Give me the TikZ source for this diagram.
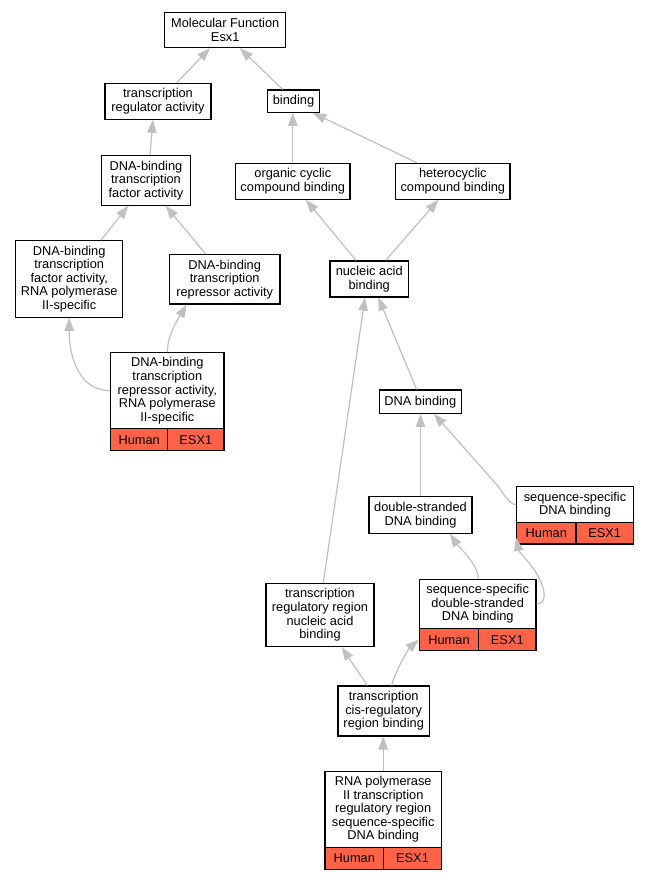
\documentclass[tikz,border=0pt]{standalone}
\usepackage{fontspec}
\setmainfont{Liberation Sans}
\usetikzlibrary{arrows.meta}
\definecolor{edgegray}{HTML}{C0C0C0}
\definecolor{tomato}{HTML}{FF6347}
\begin{document}
\begin{tikzpicture}[x=1pt,y=-1pt,
  box/.style={draw=black, line width=1.15pt, fill=white, align=center, inner sep=0pt,
    font=\fontsize{12.8}{13.6}\selectfont},
  cell/.style={box, fill=tomato, minimum height=22pt},
  edge/.style={draw=edgegray, line width=1.2pt, -{Triangle[length=13pt,width=9.5pt]}}]
\fill[white] (0,0) rectangle (648,880);
\useasboundingbox (0,0) rectangle (648,880);

% plain nodes
\node[box, minimum width=121pt, minimum height=35.5pt] (mf) at (225.2,30) {Molecular Function\\Esx1};
\node[box, minimum width=106pt, minimum height=36pt] (tra) at (158,101.3) {transcription\\regulator activity};
\node[box, minimum width=51.6pt, minimum height=22.3pt] (bind) at (293.5,101.2) {binding};
\node[box, minimum width=89.7pt, minimum height=49.6pt] (dbtfa) at (146,180.5) {DNA-binding\\transcription\\factor activity};
\node[box, minimum width=114.3pt, minimum height=36pt] (occb) at (292.8,181.3) {organic cyclic\\compound binding};
\node[box, minimum width=114.3pt, minimum height=36pt] (hccb) at (452.8,181.3) {heterocyclic\\compound binding};
\node[box, minimum width=107pt, minimum height=76.6pt] (dbtfar) at (69.2,279) {DNA-binding\\transcription\\factor activity,\\RNA polymerase\\II-specific};
\node[box, minimum width=110.7pt, minimum height=49.3pt] (dbtra) at (224.7,279.3) {DNA-binding\\transcription\\repressor activity};
\node[box, minimum width=78.3pt, minimum height=36pt] (nab) at (369.2,279) {nucleic acid\\binding};
\node[box, minimum width=82pt, minimum height=23.3pt] (dnab) at (420.3,401.7) {DNA binding};
\node[box, minimum width=103pt, minimum height=36.6pt] (dsdb) at (420.5,515) {double-stranded\\DNA binding};
\node[box, minimum width=108pt, minimum height=63.4pt] (trrnab) at (320,615) {transcription\\regulatory region\\nucleic acid\\binding};
\node[box, minimum width=91.3pt, minimum height=50pt] (crb) at (383.7,711) {transcription\\cis-regulatory\\region binding};

% record nodes
\node[box, minimum width=113.3pt, minimum height=76pt] (dbtrar) at (167.3,390.7) {DNA-binding\\transcription\\repressor activity,\\RNA polymerase\\II-specific};
\node[cell, minimum width=57pt] (dbtrarH) at (139.2,439.7) {Human};
\node[cell, minimum width=56.3pt] (dbtrarE) at (195.8,439.7) {ESX1};

\node[box, minimum width=116.6pt, minimum height=36pt] (ssdb) at (575,504.7) {sequence-specific\\DNA binding};
\node[cell, minimum width=59.3pt, minimum height=21.3pt] (ssdbH) at (546.3,533.3) {Human};
\node[cell, minimum width=57.3pt, minimum height=21.3pt] (ssdbE) at (604.7,533.3) {ESX1};

\node[box, minimum width=116.7pt, minimum height=49.4pt] (ssds) at (477.7,604) {sequence-specific\\double-stranded\\DNA binding};
\node[cell, minimum width=59.4pt] (ssdsH) at (449,639.7) {Human};
\node[cell, minimum width=57.3pt] (ssdsE) at (507.3,639.7) {ESX1};

\node[box, minimum width=116.3pt, minimum height=76pt] (rp2) at (383.2,809.3) {RNA polymerase\\II transcription\\regulatory region\\sequence-specific\\DNA binding};
\node[cell, minimum width=58.7pt] (rp2H) at (354.3,858.3) {Human};
\node[cell, minimum width=57.6pt] (rp2E) at (412.5,858.3) {ESX1};

% edges
\draw[edge] ([xshift=18.7pt]tra.north) -- ([xshift=-15.2pt]mf.south);
\draw[edge] ([xshift=-10.8pt]bind.north) -- ([xshift=14.8pt]mf.south);
\draw[edge] ([xshift=4pt]dbtfa.north) -- ([xshift=-5pt]tra.south);
\draw[edge] (occb.north) -- (occb.north |- bind.south);
\draw[edge] ([xshift=-36pt]hccb.north) -- ([xshift=19.5pt]bind.south);
\draw[edge] ([xshift=31.8pt]dbtfar.north) -- ([xshift=-17.7pt]dbtfa.south);
\draw[edge] ([xshift=-19pt]dbtra.north) -- ([xshift=19.7pt]dbtfa.south);
\draw[edge] ([xshift=-13.2pt]nab.north) -- ([xshift=13.2pt]occb.south);
\draw[edge] ([xshift=16.5pt]nab.north) -- ([xshift=-14.5pt]hccb.south);
\draw[edge] (dbtrar.west) .. controls (82,390.7) and (69.2,362) .. (dbtfar.south);
\draw[edge] (dbtrar.north) .. controls (167.3,335) and (178.7,318) .. ([xshift=-38pt]dbtra.south);
\draw[edge] ([xshift=-3.6pt]dnab.north) -- ([xshift=9.1pt]nab.south);
\draw[edge] ([xshift=3.3pt]trrnab.north) -- ([xshift=-4.2pt]nab.south);
\draw[edge] (dsdb.north) -- (dsdb.north |- dnab.south);
\draw[edge] (ssdb.west) .. controls (508.7,504.7) and (501,489.5) .. (497,485) -- ([xshift=13.7pt]dnab.south);
\draw[edge] ([xshift=0.6pt]ssds.north) .. controls (478.9,565) and (458,546) .. ([xshift=29.5pt]dsdb.south);
\draw[edge] (ssds.east) .. controls (547,604) and (546,590) .. (538,576) .. controls (530,562) and (519,552) .. ([yshift=-4.7pt]ssdbH.west);
\draw[edge] ([xshift=-16.4pt]crb.north) -- ([xshift=21.7pt]trrnab.south);
\draw[edge] ([xshift=8pt]crb.north) .. controls (394.7,671.7) and (409.3,648) .. (ssdsH.west);
\draw[edge] (rp2.north) -- (rp2.north |- crb.south);
\end{tikzpicture}
\end{document}
